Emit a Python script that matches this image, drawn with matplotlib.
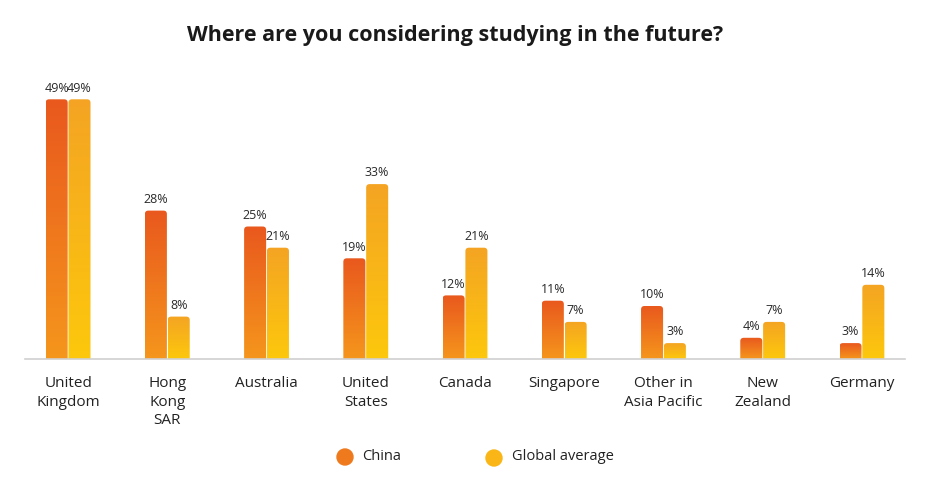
import numpy as np
import matplotlib
matplotlib.use("Agg")
import matplotlib.pyplot as plt
from matplotlib.patches import FancyBboxPatch, Circle
from matplotlib.colors import LinearSegmentedColormap

countries = ["United\nKingdom", "Hong\nKong\nSAR", "Australia", "United\nStates",
             "Canada", "Singapore", "Other in\nAsia Pacific", "New\nZealand", "Germany"]
china = [49, 28, 25, 19, 12, 11, 10, 4, 3]
global_avg = [49, 8, 21, 33, 21, 7, 3, 7, 14]

plt.rcParams['font.family'] = ['Open Sans', 'DejaVu Sans']

china_cmap = LinearSegmentedColormap.from_list("china", ["#F5961C", "#E9581E"])
global_cmap = LinearSegmentedColormap.from_list("glob", ["#FDC80C", "#F4A423"])

fig = plt.figure(figsize=(9.34, 4.82), dpi=100)
fig.patch.set_facecolor("white")
ax = fig.add_axes([25 / 934, 123 / 482, 880 / 934, 299 / 482])

x = np.arange(len(countries))
w = 0.222
off = 0.115
px_y = 5.3      # pixels per percent

grad = np.linspace(0, 1, 256).reshape(-1, 1)


def gradient_bar(xc, h, cmap):
    x0 = xc - w / 2
    patch = FancyBboxPatch((x0, -2), w, h + 2,
                           boxstyle="round,pad=0,rounding_size=0.035",
                           mutation_aspect=(3.5 / px_y) / 0.035,
                           facecolor="none", edgecolor="none")
    ax.add_patch(patch)
    im = ax.imshow(grad, cmap=cmap, origin="lower", aspect="auto",
                   extent=[x0, x0 + w, 0, h], zorder=2)
    im.set_clip_path(patch)


for i in range(len(countries)):
    gradient_bar(x[i] - off, china[i], china_cmap)
    gradient_bar(x[i] + off, global_avg[i], global_cmap)
    ax.text(x[i] - off, china[i] + 0.9, f"{china[i]}%", ha="center", va="bottom",
            fontsize=9, color="#2a2a2a")
    ax.text(x[i] + off, global_avg[i] + 0.9, f"{global_avg[i]}%", ha="center", va="bottom",
            fontsize=9, color="#2a2a2a")

ax.set_aspect("auto")
ax.set_xlim(-0.434, 8.434)
ax.set_ylim(0, 299 / px_y)

for s in ["top", "right", "left"]:
    ax.spines[s].set_visible(False)
ax.spines["bottom"].set_color("#d0d0d0")
ax.spines["bottom"].set_linewidth(1.2)
ax.set_yticks([])
ax.set_xticks(x)
ax.set_xticklabels(countries, fontsize=11, color="#222222", linespacing=1.35)
ax.tick_params(axis="x", length=0, pad=12)

fig.text(455 / 934, 1 - 35 / 482, "Where are you considering studying in the future?",
         ha="center", va="center", fontsize=15.5, fontweight="bold", color="#1a1a1a")

# legend
lax = fig.add_axes([0, 0, 1, 1], facecolor="none")
lax.set_xlim(0, 934)
lax.set_ylim(482, 0)
lax.axis("off")
lax.add_patch(Circle((345, 457), 8, color="#EF7A1D"))
lax.add_patch(Circle((494, 458), 8, color="#FAB616"))
lax.text(362, 456, "China", va="center", ha="left", fontsize=10.5, color="#222222")
lax.text(512, 457, "Global average", va="center", ha="left", fontsize=10.5, color="#222222")

fig.savefig("out.png", dpi=100, facecolor="white")
